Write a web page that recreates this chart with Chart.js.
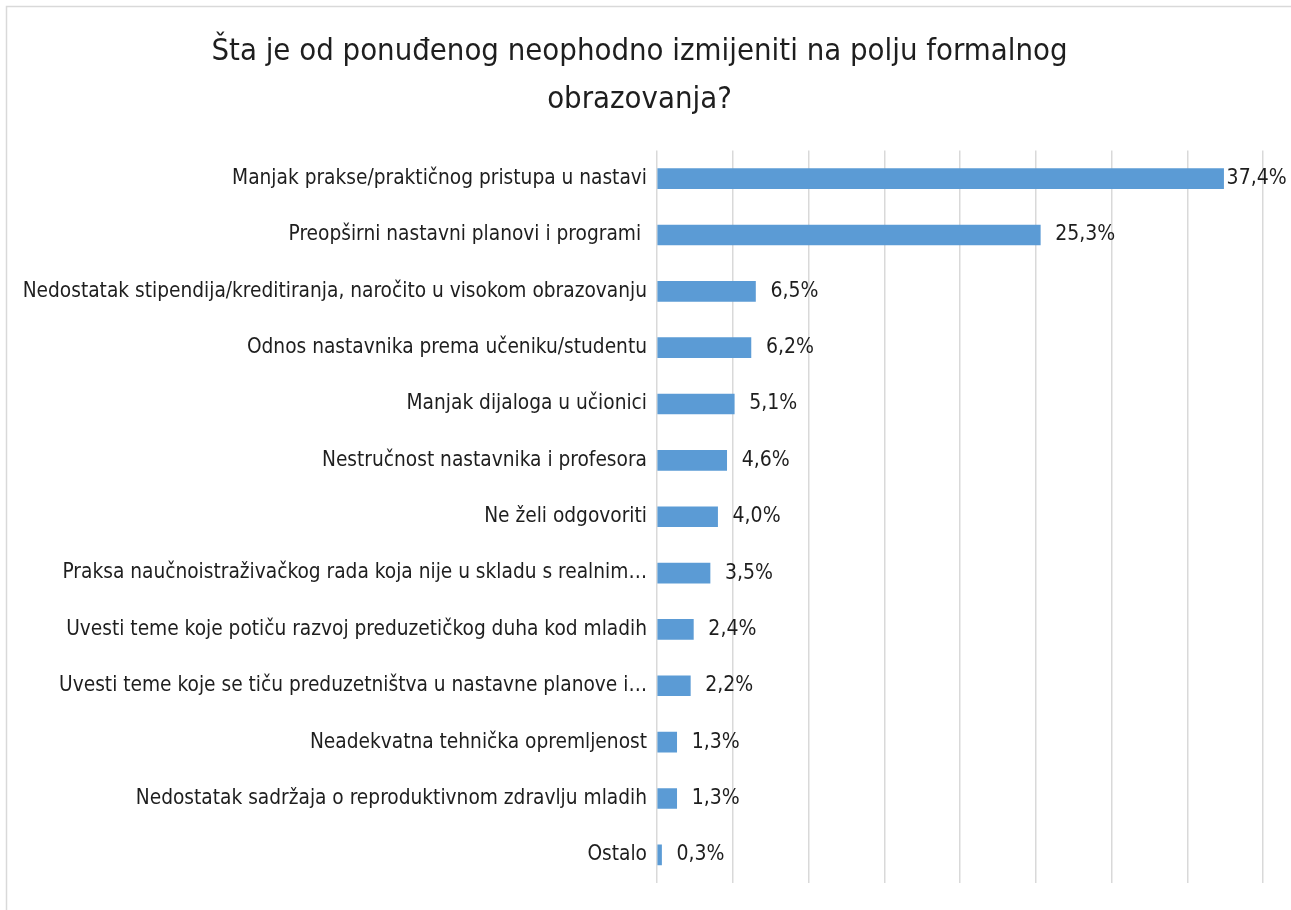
<!DOCTYPE html>
<html lang="en">
<head>
  <meta charset="UTF-8" />
  <title>Formalno obrazovanje</title>
  <script src="https://cdn.jsdelivr.net/npm/chart.js"></script>
  <style>
    body { margin: 0; background: #fff; }
    #wrap { position: relative; width: 1291px; height: 910px; }
  </style>
</head>
<body>
<div id="wrap"><canvas id="mainChart" width="1291" height="910"></canvas></div>

<script>
  const titleLines = ["Šta je od ponuđenog neophodno izmijeniti na polju formalnog", "obrazovanja?"];

  const categories = [
    "Manjak prakse/praktičnog pristupa u nastavi",
    "Preopširni nastavni planovi i programi ",
    "Nedostatak stipendija/kreditiranja, naročito u visokom obrazovanju",
    "Odnos nastavnika prema učeniku/studentu",
    "Manjak dijaloga u učionici",
    "Nestručnost nastavnika i profesora",
    "Ne želi odgovoriti",
    "Praksa naučnoistraživačkog rada koja nije u skladu s realnim…",
    "Uvesti teme koje potiču razvoj preduzetičkog duha kod mladih",
    "Uvesti teme koje se tiču preduzetništva u nastavne planove i…",
    "Neadekvatna tehnička opremljenost",
    "Nedostatak sadržaja o reproduktivnom zdravlju mladih",
    "Ostalo"
  ];

  const percentages = [37.4, 25.3, 6.5, 6.2, 5.1, 4.6, 4.0, 3.5, 2.4, 2.2, 1.3, 1.3, 0.3];

  const FONT = "'Liberation Sans Narrow', 'DejaVu Sans Condensed', Roboto, sans-serif";

  // frame line at top/left like the pasted chart box
  const framePlugin = {
    id: "frame",
    beforeDraw(chart) {
      const ctx = chart.ctx;
      ctx.save();
      ctx.strokeStyle = "#d9d9d9";
      ctx.lineWidth = 1.5;
      ctx.beginPath();
      ctx.moveTo(6.5, chart.height);
      ctx.lineTo(6.5, 6.5);
      ctx.lineTo(chart.width, 6.5);
      ctx.stroke();
      ctx.restore();
    }
  };

  // value labels right of each bar
  const valueLabels = {
    id: "valueLabels",
    afterDatasetsDraw(chart) {
      const ctx = chart.ctx;
      const meta = chart.getDatasetMeta(0);
      ctx.save();
      ctx.font = "21px " + FONT;
      ctx.fillStyle = "#1e1e1e";
      ctx.textBaseline = "middle";
      ctx.textAlign = "left";
      meta.data.forEach((bar, i) => {
        const txt = percentages[i].toFixed(1).replace(".", ",") + "%";
        const gap = i === 0 ? 3 : 15;
        ctx.fillText(txt, bar.x + gap, bar.y);
      });
      ctx.restore();
    }
  };

  const ctx = document.getElementById("mainChart").getContext("2d");
  new Chart(ctx, {
    type: "bar",
    data: {
      labels: categories,
      datasets: [{
        data: percentages,
        backgroundColor: "#5b9bd5",
        barThickness: 20
      }]
    },
    options: {
      indexAxis: "y",
      responsive: false,
      animation: false,
      layout: { padding: { left: 16, right: 28, top: 0, bottom: 27 } },
      plugins: {
        legend: { display: false },
        tooltip: { enabled: false },
        title: {
          display: true,
          text: titleLines,
          color: "#1e1e1e",
          font: { family: FONT, size: 30.8, weight: "normal", lineHeight: 1.55 },
          padding: { top: 28, bottom: 27 }
        }
      },
      scales: {
        x: {
          min: 0,
          max: 40,
          ticks: { display: false, stepSize: 5 },
          grid: { color: "#d9d9d9", lineWidth: 1.5, drawTicks: false },
          border: { display: false },
          afterFit: s => { s.height = 0; }
        },
        y: {
          grid: { display: false, drawTicks: false },
          border: { display: false },
          ticks: { color: "#1e1e1e", padding: 10, font: { family: FONT, size: 20.7 } },
          afterFit: s => { s.width = 657 - 16; }
        }
      }
    },
    plugins: [framePlugin, valueLabels]
  });
</script>
</body>
</html>
